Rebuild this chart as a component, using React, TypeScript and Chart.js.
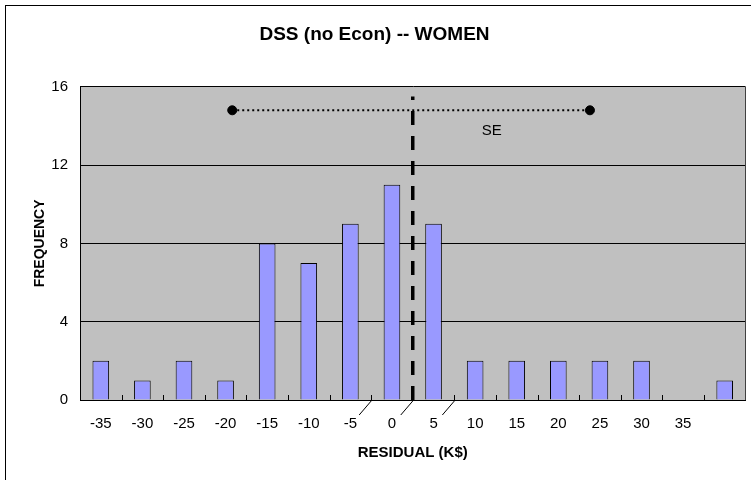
import React, { useEffect, useRef } from "react";
import { Chart, registerables } from "chart.js";

Chart.register(...registerables);

const titleText = "DSS (no Econ) -- WOMEN";
const xTitle = "RESIDUAL (K$)";
const yTitle = "FREQUENCY";
const categories = ["-35", "-30", "-25", "-20", "-15", "-10", "-5", "0", "5", "10", "15", "20", "25", "30", "35", ""];
const frequencies = [2, 1, 2, 1, 8, 7, 9, 11, 9, 2, 2, 2, 2, 2, 0, 1];
const yTicks = [0, 4, 8, 12, 16];
const residualRange = [-37.5, 42.5];
const meanLine = [
  { x: 2.5, y: 0 },
  { x: 2.5, y: 15.5 },
];
const seLine = [
  { x: -19.2, y: 14.8 },
  { x: 23.8, y: 14.8 },
];
const seLabel = { text: "SE", x: 12, y: 13.75 };
const leaderLabels = ["-5", "0", "5"];

const FONT = "'Liberation Sans', Arial, sans-serif";

const decor = {
  id: "decor",
  beforeDraw(chart: any) {
    const { ctx, chartArea: a, width, height } = chart;
    ctx.save();
    ctx.fillStyle = "#ffffff";
    ctx.fillRect(0, 0, width, height);
    ctx.strokeStyle = "#000000";
    ctx.lineWidth = 1;
    ctx.strokeRect(5.5, 5.5, width + 20, height + 20);
    ctx.fillStyle = "#C0C0C0";
    ctx.fillRect(a.left, a.top, a.right - a.left, a.bottom - a.top);
    ctx.restore();
  },
  afterDraw(chart: any) {
    const { ctx, chartArea: a } = chart;
    const xs = chart.scales.x;
    const x2 = chart.scales.x2;
    const ys = chart.scales.y;
    ctx.save();
    ctx.strokeStyle = "#404040";
    ctx.lineWidth = 1;
    ctx.beginPath();
    ctx.moveTo(Math.round(a.right) - 0.5, a.top);
    ctx.lineTo(Math.round(a.right) - 0.5, a.bottom);
    ctx.stroke();
    // inward tick marks at category boundaries
    ctx.strokeStyle = "#000000";
    ctx.beginPath();
    for (let i = 0; i < categories.length - 1; i++) {
      const bx = Math.round((xs.getPixelForValue(i) + xs.getPixelForValue(i + 1)) / 2) + 0.5;
      ctx.moveTo(bx, a.bottom);
      ctx.lineTo(bx, a.bottom - 5);
    }
    ctx.stroke();
    // leader lines
    ctx.beginPath();
    leaderLabels.forEach((lab) => {
      const i = categories.indexOf(lab);
      const bx = (xs.getPixelForValue(i) + xs.getPixelForValue(i + 1)) / 2;
      ctx.moveTo(bx - 12, a.bottom + 15);
      ctx.lineTo(bx, a.bottom + 1);
    });
    ctx.stroke();
    // SE label
    ctx.fillStyle = "#000000";
    ctx.font = `15px ${FONT}`;
    ctx.textAlign = "center";
    ctx.textBaseline = "middle";
    ctx.fillText(seLabel.text, x2.getPixelForValue(seLabel.x), ys.getPixelForValue(seLabel.y));
    ctx.restore();
  },
};

export default function App() {
  const ref = useRef<HTMLCanvasElement>(null);

  useEffect(() => {
    if (!ref.current) return;
    const chart = new Chart(ref.current, {
      type: "bar",
      data: {
        labels: categories,
        datasets: [
          {
            type: "bar",
            data: frequencies,
            xAxisID: "x",
            backgroundColor: "#9999FF",
            borderColor: "#000000",
            borderWidth: 1,
            barPercentage: 0.4,
            categoryPercentage: 1,
            grouped: false,
            order: 2,
          } as any,
          {
            type: "line",
            data: meanLine,
            xAxisID: "x2",
            borderColor: "#000000",
            borderWidth: 3.5,
            borderDash: [14, 11],
            pointRadius: 0,
            fill: false,
            order: 1,
          } as any,
          {
            type: "line",
            data: seLine,
            xAxisID: "x2",
            borderColor: "#000000",
            borderWidth: 2,
            borderDash: [2, 3],
            pointRadius: 4.5,
            pointBackgroundColor: "#000000",
            pointBorderColor: "#000000",
            pointBorderWidth: 1,
            fill: false,
            order: 1,
          } as any,
        ],
      },
      options: {
        responsive: false,
        animation: false,
        devicePixelRatio: 1,
        layout: { padding: { left: 0, right: 2, top: 0, bottom: 0 } },
        plugins: {
          legend: { display: false },
          tooltip: { enabled: false },
          title: {
            display: true,
            text: titleText,
            color: "#000000",
            font: { family: FONT, size: 19, weight: "bold" },
            padding: { top: 23, bottom: 41 },
          },
        },
        scales: {
          x: {
            type: "category",
            position: "bottom",
            offset: true,
            afterFit: (s: any) => {
              s.height = 80;
            },
            grid: { display: true, drawOnChartArea: false, drawTicks: false },
            border: { display: true, color: "#000000", width: 1 },
            ticks: {
              color: "#000000",
              font: { family: FONT, size: 15 },
              padding: 15,
              maxRotation: 0,
              autoSkip: false,
            },
            title: {
              display: true,
              text: xTitle,
              color: "#000000",
              font: { family: FONT, size: 15, weight: "bold" },
              padding: { top: 0, bottom: 18 },
            },
          },
          x2: {
            type: "linear",
            display: false,
            min: residualRange[0],
            max: residualRange[1],
            offset: false,
          },
          y: {
            type: "linear",
            position: "left",
            min: yTicks[0],
            max: yTicks[yTicks.length - 1],
            afterFit: (s: any) => {
              s.width = 80;
            },
            afterBuildTicks: (s: any) => {
              s.ticks = yTicks.map((v) => ({ value: v }));
            },
            grid: { color: "#000000", lineWidth: 1, drawTicks: false },
            border: { display: true, color: "#000000", width: 1 },
            ticks: {
              color: "#000000",
              font: { family: FONT, size: 15 },
              padding: 12,
            },
            title: {
              display: true,
              text: yTitle,
              color: "#000000",
              font: { family: FONT, size: 14, weight: "bold" },
              padding: { top: 31.6, bottom: 0 },
            },
          },
        },
      },
      plugins: [decor],
    });
    return () => chart.destroy();
  }, []);

  return (
    <div style={{ position: "fixed", left: 0, top: 0, width: 751, height: 480, overflow: "hidden", background: "#fff" }}>
      <canvas ref={ref} width={751} height={480} style={{ display: "block" }} />
    </div>
  );
}
